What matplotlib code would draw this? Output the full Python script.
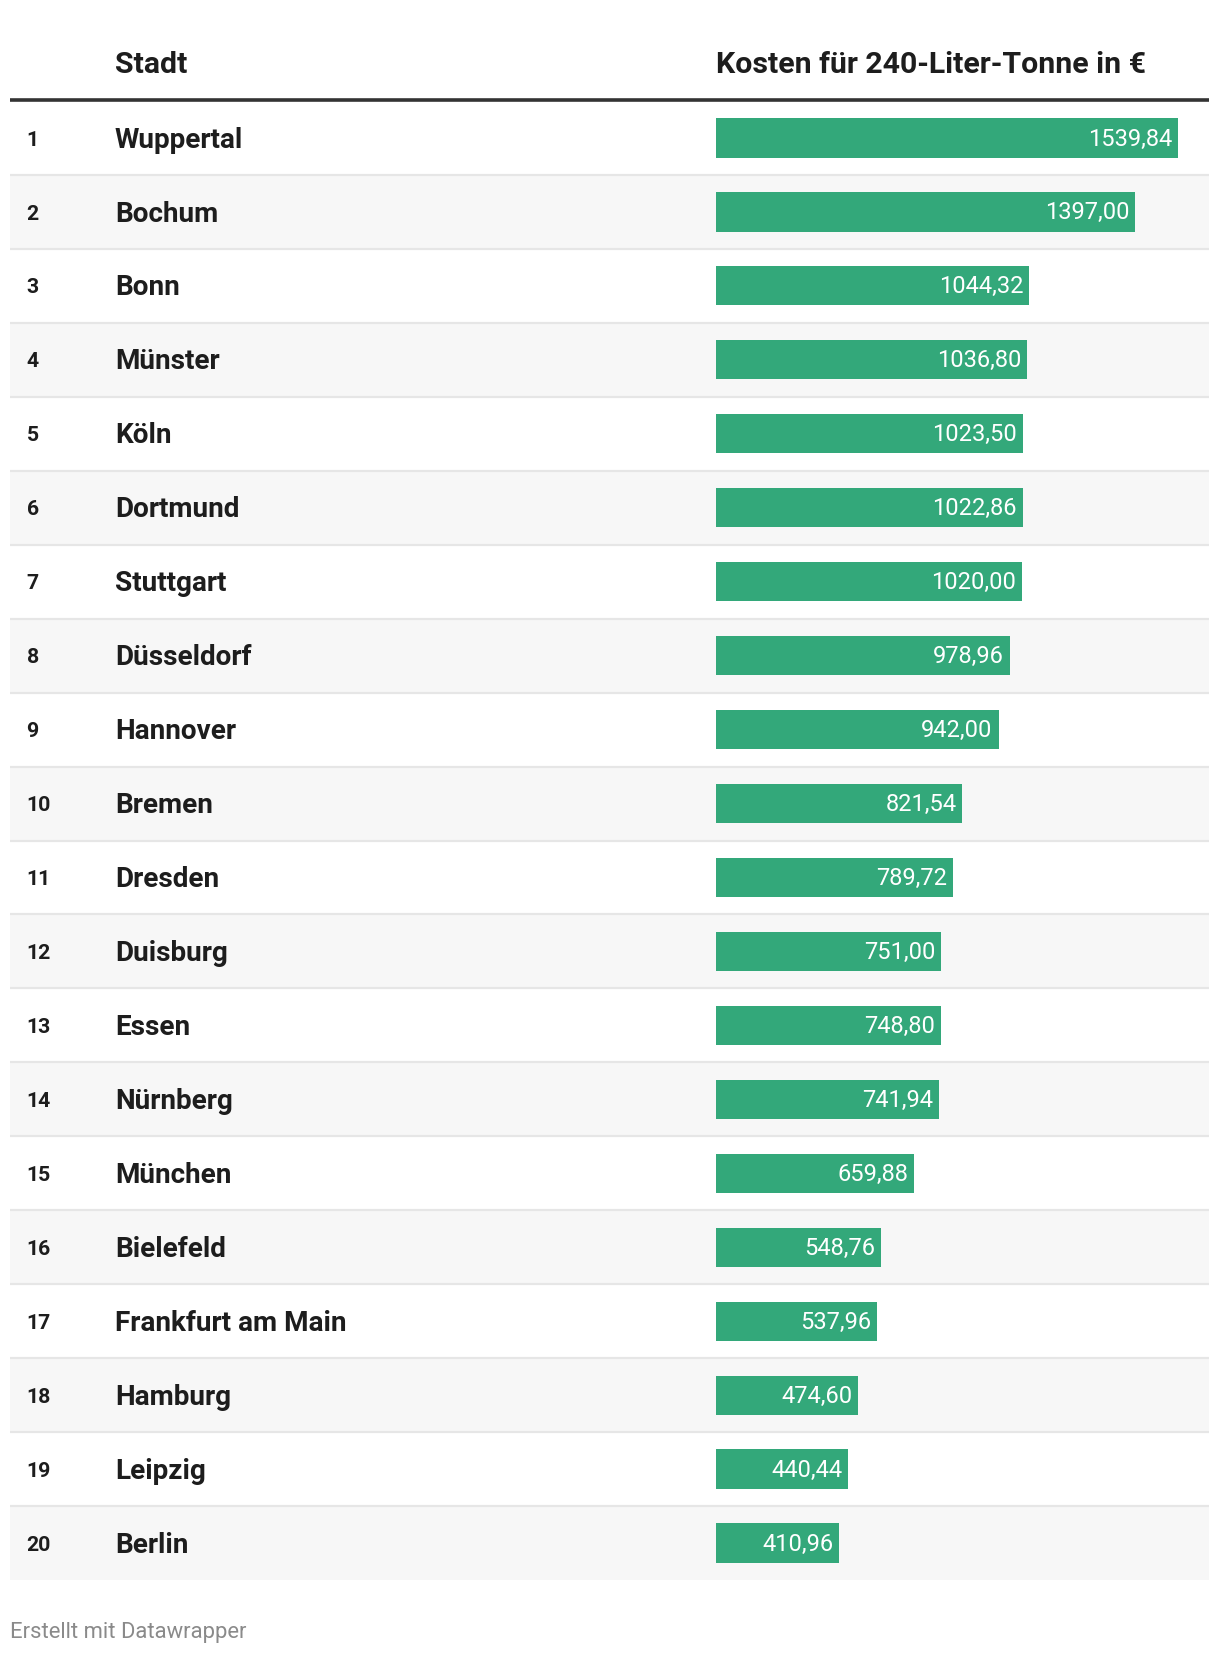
import matplotlib.pyplot as plt

# Daten
staedte = ["Wuppertal", "Bochum", "Bonn", "Münster", "Köln", "Dortmund", "Stuttgart",
           "Düsseldorf", "Hannover", "Bremen", "Dresden", "Duisburg", "Essen", "Nürnberg",
           "München", "Bielefeld", "Frankfurt am Main", "Hamburg", "Leipzig", "Berlin"]
kosten = [1539.84, 1397.00, 1044.32, 1036.80, 1023.50, 1022.86, 1020.00, 978.96, 942.00,
          821.54, 789.72, 751.00, 748.80, 741.94, 659.88, 548.76, 537.96, 474.60, 440.44, 410.96]
raenge = list(range(1, len(staedte) + 1))

W, H = 1220, 1656
GREEN = "#33a87a"
TEXT = "#1d1d1d"

plt.rcParams['font.family'] = ['Roboto', 'DejaVu Sans']

fig = plt.figure(figsize=(W / 100, H / 100), dpi=100)
fig.patch.set_facecolor("white")

# Gesamte Fläche in Pixelkoordinaten (Kopf, Linie, Fußzeile)
base = fig.add_axes([0, 0, 1, 1])
base.set_xlim(0, W)
base.set_ylim(H, 0)
base.axis("off")

base.text(115, 65, "Stadt", fontsize=21.8, fontweight="bold", color=TEXT, va="center")
base.text(716, 65, "Kosten für 240-Liter-Tonne in €", fontsize=21.8, fontweight="bold",
          color=TEXT, va="center")
base.plot([10, 1209], [100.5, 100.5], color="#333333", lw=2.6, solid_capstyle="butt")
base.text(10, 1633, "Erstellt mit Datawrapper", fontsize=15.8, color="#8a8a8a", va="center")

# Tabellenzeilen
row_top, row_bot = 102, 1581
n = len(staedte)
tab = fig.add_axes([10 / W, 1 - row_bot / H, 1199 / W, (row_bot - row_top) / H])
tab.set_xlim(10, 1209)
tab.set_ylim(n - 0.5, -0.5)
tab.axis("off")
for i in range(n):
    if i % 2 == 1:
        tab.axhspan(i - 0.5, i + 0.5, color="#f7f7f7", lw=0, zorder=0)
    if i < n - 1:
        tab.axhline(i + 0.5, color="#e6e6e6", lw=1.6, zorder=1)
    tab.text(26.5, i + 0.015, str(raenge[i]), fontsize=15.3, fontweight="bold", color=TEXT,
             va="center", ha="left")
    tab.text(115, i + 0.015, staedte[i], fontsize=20.1, fontweight="bold", color=TEXT,
             va="center", ha="left")

# Balken
bar_left, bar_right = 716, 1209
px_per_eur = 462 / 1539.84
bars = fig.add_axes([bar_left / W, 1 - row_bot / H, (bar_right - bar_left) / W,
                     (row_bot - row_top) / H])
bars.patch.set_alpha(0)
bars.set_xlim(0, (bar_right - bar_left) / px_per_eur)
bars.set_ylim(n - 0.5, -0.5)
bars.axis("off")
bars.barh(range(n), kosten, height=0.53, color=GREEN, zorder=2)
for i, v in enumerate(kosten):
    label = f"{v:.2f}".replace(".", ",")
    bars.annotate(label, (v, i), xytext=(-4.3, 0), textcoords="offset points",
                  ha="right", va="center", color="white", fontsize=17, zorder=3)

fig.savefig("out.png", dpi=100, facecolor="white")
